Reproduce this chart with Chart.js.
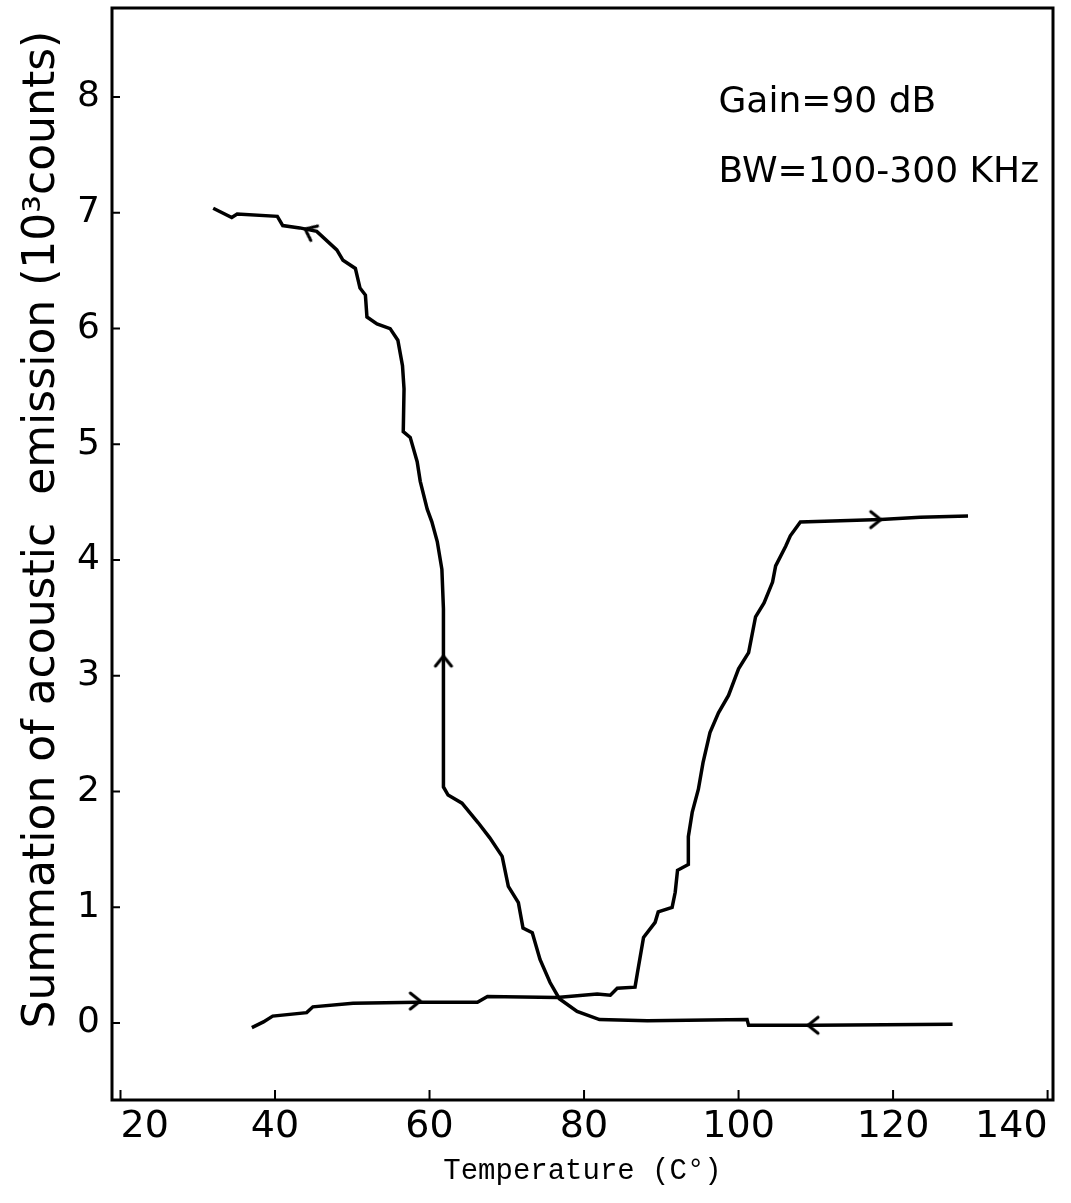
<!DOCTYPE html>
<html><head><meta charset="utf-8">
<script src="https://cdn.jsdelivr.net/npm/chart.js@4.4.0/dist/chart.umd.min.js"></script>
<style>html,body{margin:0;padding:0;background:#fff}#wrap{width:1071px;height:1203px}</style>
</head><body><div id="wrap"><canvas id="c" width="1071" height="1203"></canvas></div>
<script>
const xTicks = [20, 40, 60, 80, 100, 120, 140];
const yTicks = [0, 1, 2, 3, 4, 5, 6, 7, 8];

// heating run (arrows pointing right)
const heatT   = [37.0, 38.5, 39.7, 44.1, 44.9, 50.1, 58.4, 66.2, 67.5, 76.5, 81.7, 83.4, 84.3, 86.6, 86.9, 87.7, 89.2, 89.6, 91.4, 91.8, 92.1, 93.5, 93.5, 94.0, 94.8, 95.4, 96.3, 97.4, 98.7, 100.0, 101.3, 102.2, 103.3, 104.4, 104.8, 106.1, 106.7, 108.0, 113.2, 118.4, 123.5, 129.7];
const heatSum = [-0.04, 0.01, 0.06, 0.09, 0.14, 0.17, 0.18, 0.18, 0.23, 0.22, 0.25, 0.24, 0.30, 0.31, 0.43, 0.74, 0.87, 0.96, 1.00, 1.13, 1.32, 1.37, 1.61, 1.82, 2.02, 2.25, 2.51, 2.68, 2.83, 3.06, 3.20, 3.51, 3.63, 3.81, 3.95, 4.12, 4.21, 4.33, 4.34, 4.35, 4.37, 4.38];

// cooling run (arrows pointing left)
const coolT   = [127.7, 110.0, 101.3, 101.1, 88.2, 82.0, 79.1, 76.8, 75.6, 74.3, 73.3, 72.1, 71.5, 70.2, 69.4, 67.8, 66.3, 64.2, 62.4, 61.8, 61.8, 61.8, 61.6, 61.0, 60.3, 59.7, 58.8, 58.4, 57.5, 56.6, 56.7, 56.5, 55.9, 54.9, 53.2, 51.9, 51.7, 51.0, 50.4, 48.8, 48.0, 45.4, 43.2, 41.0, 40.3, 35.1, 34.4, 32.0];
const coolSum = [-0.01, -0.02, -0.02, 0.03, 0.02, 0.03, 0.10, 0.21, 0.35, 0.55, 0.78, 0.82, 1.04, 1.18, 1.44, 1.60, 1.73, 1.90, 1.97, 2.04, 3.17, 3.58, 3.92, 4.16, 4.33, 4.44, 4.68, 4.85, 5.06, 5.11, 5.48, 5.68, 5.90, 6.00, 6.04, 6.10, 6.29, 6.35, 6.52, 6.59, 6.68, 6.84, 6.87, 6.89, 6.97, 6.99, 6.96, 7.04];

// direction arrows on the curves
const arrowT   = [58.8, 118.4, 109.0, 43.9, 61.8];
const arrowSum = [0.19, 4.35, -0.02, 6.86, 3.17];
const arrowDir = [0, 0, 180, 205, 270];

// annotations
const noteText = ['Gain=90 dB', 'BW=100-300 KHz'];
const noteT    = [97.4, 97.4];
const noteSum  = [7.95, 7.35];

function chevron() {
  const c = document.createElement('canvas');
  c.width = 30; c.height = 30;
  const g = c.getContext('2d');
  g.strokeStyle = '#000'; g.lineWidth = 3; g.lineCap = 'round'; g.lineJoin = 'round';
  g.beginPath(); g.moveTo(5, 7); g.lineTo(15, 15); g.lineTo(5, 23); g.stroke();
  return c;
}
const chev = chevron();

function zeroPad(s) { s.paddingTop = 0; s.paddingBottom = 0; s.paddingLeft = 0; s.paddingRight = 0; }

const framePlugin = {
  id: 'frame',
  afterDatasetsDraw(chart) {
    const {ctx, chartArea: a, scales: {x, y}} = chart;
    ctx.save();
    ctx.strokeStyle = '#000';
    ctx.lineWidth = 3;
    ctx.strokeRect(a.left, a.top, a.right - a.left, a.bottom - a.top);
    ctx.lineWidth = 2;
    ctx.beginPath();
    xTicks.forEach(v => { const p = x.getPixelForValue(v); ctx.moveTo(p, a.bottom); ctx.lineTo(p, a.bottom - 10); });
    yTicks.forEach(v => { const p = y.getPixelForValue(v); ctx.moveTo(a.left, p); ctx.lineTo(a.left + 8, p); });
    ctx.stroke();
    ctx.fillStyle = '#000';
    ctx.font = '36px "DejaVu Sans"';
    ctx.textAlign = 'left';
    ctx.textBaseline = 'middle';
    noteText.forEach((t, i) => ctx.fillText(t, x.getPixelForValue(noteT[i]), y.getPixelForValue(noteSum[i])));
    ctx.restore();
  }
};

new Chart(document.getElementById('c'), {
  type: 'scatter',
  data: {
    datasets: [
      { data: heatT.map((t, i) => ({x: t, y: heatSum[i]})), showLine: true, borderColor: '#000', borderWidth: 3.5, pointRadius: 0, tension: 0 },
      { data: coolT.map((t, i) => ({x: t, y: coolSum[i]})), showLine: true, borderColor: '#000', borderWidth: 3.5, pointRadius: 0, tension: 0 },
      { data: arrowT.map((t, i) => ({x: t, y: arrowSum[i]})), showLine: false, pointStyle: chev, rotation: arrowDir, pointRadius: 12 }
    ]
  },
  options: {
    responsive: false,
    animation: false,
    devicePixelRatio: 1,
    layout: { autoPadding: false, padding: { top: 8, right: 18, left: 0, bottom: 0 } },
    plugins: { legend: { display: false }, tooltip: { enabled: false } },
    scales: {
      x: {
        type: 'linear', min: 18.9, max: 140.7,
        afterBuildTicks: s => { s.ticks = xTicks.map(v => ({value: v})); },
        afterFit: s => { s.height = 103; zeroPad(s); },
        grid: { display: false }, border: { display: false },
        ticks: { color: '#000', padding: -4, align: 'inner', font: { family: 'DejaVu Sans', size: 38 }, maxRotation: 0, autoSkip: false },
        title: { display: true, text: 'Temperature (C°)', color: '#000', font: { family: 'Liberation Mono', size: 29 }, padding: { top: 0, bottom: 14 } }
      },
      y: {
        type: 'linear', min: -0.665, max: 8.77,
        afterBuildTicks: s => { s.ticks = yTicks.map(v => ({value: v})); },
        afterFit: s => { s.width = 112; zeroPad(s); },
        grid: { display: false }, border: { display: false },
        ticks: { color: '#000', padding: 4, font: { family: 'DejaVu Sans', size: 36 }, autoSkip: false },
        title: { display: true, align: 'end', text: 'Summation of acoustic  emission (10³counts) \u2009', color: '#000', font: { family: 'DejaVu Sans', size: 44 }, padding: { top: 16, bottom: 0 } }
      }
    }
  },
  plugins: [framePlugin]
});
</script></body></html>
